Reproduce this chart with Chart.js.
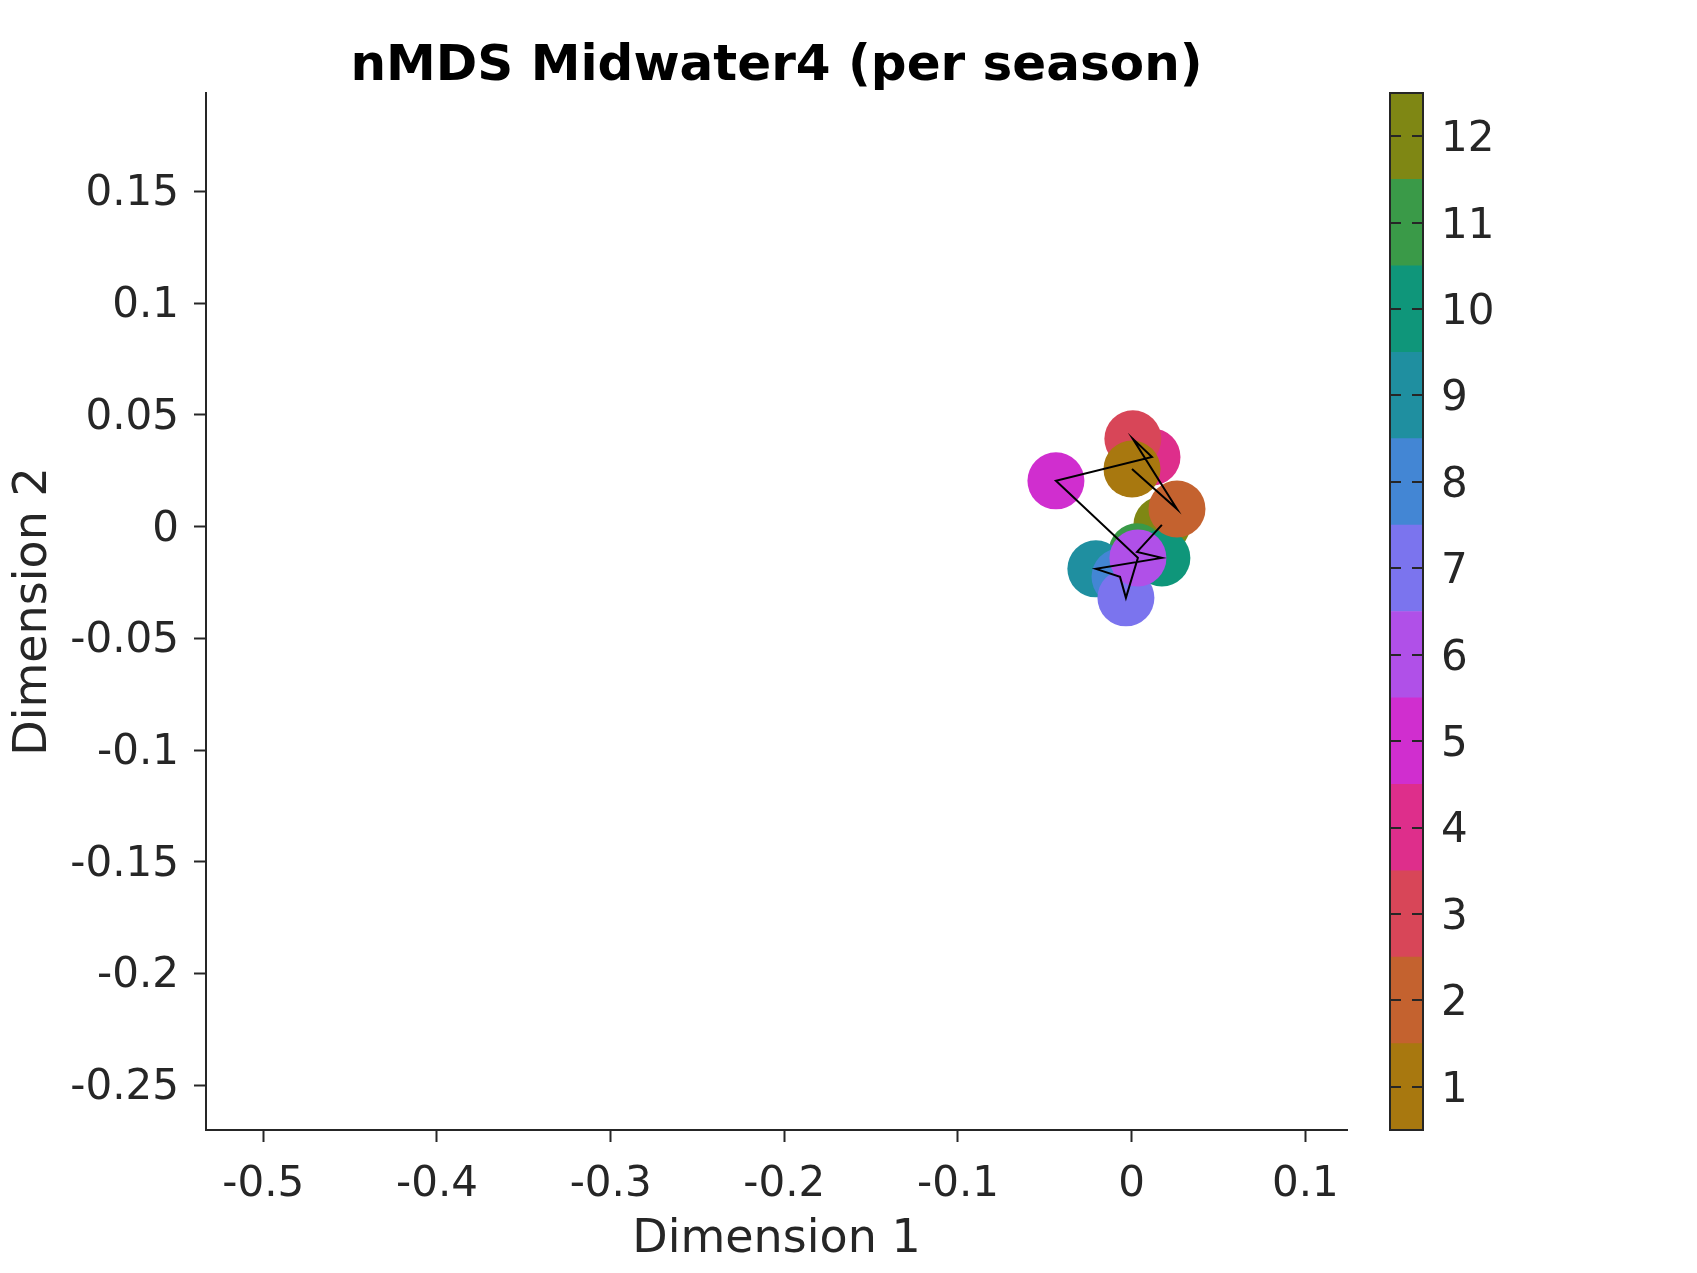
<!DOCTYPE html>
<html>
<head>
<meta charset="utf-8">
<title>nMDS Midwater4 (per season)</title>
<script src="https://cdn.jsdelivr.net/npm/chart.js@4.4.1/dist/chart.umd.min.js"></script>
<style>
  html, body { margin: 0; padding: 0; background: #ffffff; }
  #wrap { position: relative; width: 1697px; height: 1273px; }
  #main { position: absolute; left: 0; top: 0; }
  #cbar { position: absolute; left: 1380px; top: 0; }
</style>
</head>
<body>
<div id="wrap">
  <canvas id="main" width="1697" height="1273"></canvas>
  <canvas id="cbar" width="317" height="1273"></canvas>
</div>
<script>
// nMDS coordinates per month
const months = [1, 2, 3, 4, 5, 6, 7, 8, 9, 10, 11, 12];
const dim1 = [0.0002, 0.0261, 0.0007, 0.0117, -0.0436, 0.0036, -0.0033, -0.0067, -0.0206, 0.0174, 0.0031, 0.0174];
const dim2 = [0.0258, 0.0079, 0.0393, 0.0312, 0.0205, -0.0140, -0.0319, -0.0225, -0.0189, -0.0140, -0.0113, 0.0008];
const monthColors = ['#a8780f', '#c4622f', '#d84658', '#de2e8b', '#d02ecf', '#b050e8',
                     '#7b74ee', '#4386d4', '#1f8fa0', '#0f967a', '#3a9a48', '#7f8714'];

const xTicks = [-0.5, -0.4, -0.3, -0.2, -0.1, 0, 0.1];
const yTicks = [-0.25, -0.2, -0.15, -0.1, -0.05, 0, 0.05, 0.1, 0.15];
const xLimits = [-0.533, 0.124];
const yLimits = [-0.2701, 0.1941];

const axisColor = '#262626';
const fontFamily = "'DejaVu Sans', 'Liberation Sans', sans-serif";

Chart.defaults.font.family = fontFamily;
Chart.defaults.color = axisColor;

// one dataset per month so month 1 ends up on top
const pointSets = months.map((m, i) => ({
    type: 'scatter',
    label: String(m),
    data: [{x: dim1[i], y: dim2[i]}],
    backgroundColor: monthColors[i],
    borderWidth: 0,
    pointRadius: 28.5,
    pointHoverRadius: 28.5,
    order: 1
}));

const pathSet = {
    type: 'line',
    label: 'path',
    data: months.map((m, i) => ({x: dim1[i], y: dim2[i]})),
    borderColor: '#000000',
    borderWidth: 2,
    pointRadius: 0,
    fill: false,
    tension: 0,
    order: 0
};

new Chart(document.getElementById('main'), {
    type: 'scatter',
    data: { datasets: [pathSet, ...pointSets] },
    options: {
        responsive: false,
        devicePixelRatio: 1,
        animation: false,
        layout: { padding: { left: 0, right: 350, top: 0, bottom: 0 } },
        plugins: {
            legend: { display: false },
            tooltip: { enabled: false },
            title: {
                display: true,
                text: 'nMDS Midwater4 (per season)',
                color: '#000000',
                fullSize: false,
                font: { size: 50, weight: 'bold', family: fontFamily, lineHeight: 1.04 },
                padding: { top: 41, bottom: 0 }
            }
        },
        scales: {
            x: {
                type: 'linear',
                min: xLimits[0],
                max: xLimits[1],
                afterBuildTicks: s => { s.ticks = xTicks.map(v => ({value: v})); },
                afterFit: s => { s.height = 143; },
                ticks: {
                    callback: v => String(v),
                    font: { size: 42 },
                    color: axisColor,
                    padding: 18,
                    maxRotation: 0,
                    autoSkip: false
                },
                grid: {
                    drawOnChartArea: false,
                    drawTicks: true,
                    tickLength: 12,
                    tickWidth: 2,
                    tickColor: axisColor
                },
                border: { display: true, color: axisColor, width: 2 },
                title: {
                    display: true,
                    text: 'Dimension 1',
                    color: axisColor,
                    font: { size: 46, lineHeight: 1.2 },
                    padding: { top: 0, bottom: 5 }
                }
            },
            y: {
                type: 'linear',
                min: yLimits[0],
                max: yLimits[1],
                afterBuildTicks: s => { s.ticks = yTicks.map(v => ({value: v})); },
                afterFit: s => { s.width = 206; },
                ticks: {
                    callback: v => String(v),
                    font: { size: 42 },
                    color: axisColor,
                    padding: 15,
                    labelOffset: 3,
                    autoSkip: false
                },
                grid: {
                    drawOnChartArea: false,
                    drawTicks: true,
                    tickLength: 12,
                    tickWidth: 2,
                    tickColor: axisColor
                },
                border: { display: true, color: axisColor, width: 2 },
                title: {
                    display: true,
                    text: 'Dimension 2',
                    color: axisColor,
                    font: { size: 46, lineHeight: 1.2 },
                    padding: { top: 6, bottom: 0 }
                }
            }
        }
    }
});

// colour bar: one floating bar per month, all in the same column
const cbTicks = months;
const cbarSets = months.map((m, i) => ({
    label: String(m),
    data: [[m - 0.5, m + 0.5]],
    backgroundColor: monthColors[i],
    borderWidth: 0,
    grouped: false,
    barPercentage: 1,
    categoryPercentage: 1
}));

const boxPlugin = {
    id: 'cbarBox',
    afterDraw(chart) {
        const a = chart.chartArea;
        const ctx = chart.ctx;
        ctx.save();
        ctx.strokeStyle = axisColor;
        ctx.lineWidth = 2;
        ctx.strokeRect(a.left, a.top, a.right - a.left, a.bottom - a.top);
        ctx.restore();
    }
};

new Chart(document.getElementById('cbar'), {
    type: 'bar',
    data: { labels: [''], datasets: cbarSets },
    options: {
        responsive: false,
        devicePixelRatio: 1,
        animation: false,
        layout: { padding: { left: 10, right: 0, top: 93, bottom: 143 } },
        plugins: {
            legend: { display: false },
            tooltip: { enabled: false }
        },
        scales: {
            x: { display: false },
            y: {
                position: 'right',
                min: 0.5,
                max: 12.5,
                afterBuildTicks: s => { s.ticks = cbTicks.map(v => ({value: v})); },
                afterFit: s => { s.width = 274; },
                ticks: {
                    callback: v => String(v),
                    font: { size: 42 },
                    color: axisColor,
                    padding: 18,
                    labelOffset: 4
                },
                grid: {
                    drawOnChartArea: true,
                    drawTicks: false,
                    color: axisColor,
                    lineWidth: 2,
                    z: 1
                },
                border: { display: false, dash: [11, 11] }
            }
        }
    },
    plugins: [boxPlugin]
});
</script>
</body>
</html>
